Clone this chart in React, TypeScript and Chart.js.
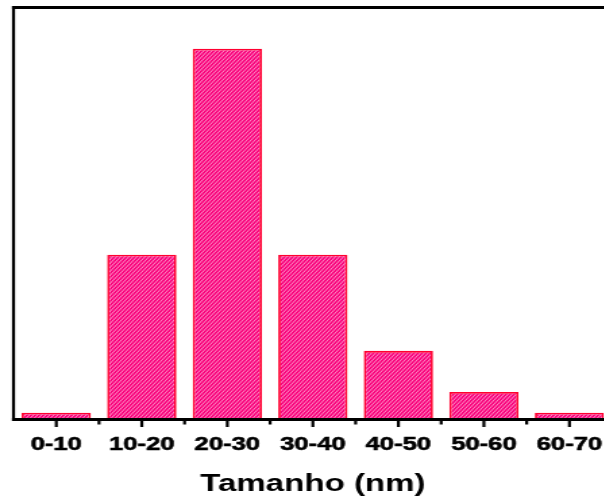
import React, { useEffect, useRef } from "react";
import { Chart, registerables } from "chart.js";

Chart.register(...registerables);

const categories = ["0-10", "10-20", "20-30", "30-40", "40-50", "50-60", "60-70"];
const counts = [1, 24, 54, 24, 10, 4, 1];
const yMax = 60;
const xTitle = "Tamanho (nm)";

const STRETCH = 1.35;
const CANVAS_W = 460;
const CANVAS_H = 501;

function makeHatch(): CanvasPattern | string {
  const c = document.createElement("canvas");
  c.width = 3;
  c.height = 4;
  const g = c.getContext("2d");
  if (!g) return "#ff0a80";
  g.fillStyle = "#f8007a";
  g.fillRect(0, 0, 3, 4);
  g.strokeStyle = "rgba(255,195,228,0.9)";
  g.lineWidth = 0.85;
  g.beginPath();
  g.moveTo(-3, 8);
  g.lineTo(3, 0);
  g.moveTo(0, 8);
  g.lineTo(6, 0);
  g.moveTo(-3, 4);
  g.lineTo(3, -4);
  g.stroke();
  const p = g.createPattern(c, "repeat");
  return p || "#ff0a80";
}

const framePlugin = {
  id: "frame",
  afterDatasetsDraw(chart: any) {
    const { ctx, chartArea, scales } = chart;
    const { left, top, right, bottom } = chartArea;
    const x = scales.x;
    const vw = 3 / STRETCH;
    ctx.save();
    ctx.fillStyle = "#000";
    ctx.fillRect(left - vw / 2, top - 1.5, right - left + vw, 3);
    ctx.fillRect(left - vw / 2, top - 1.5, vw, bottom - top + 3);
    ctx.fillRect(right - vw / 2, top - 1.5, vw, bottom - top + 3);
    ctx.fillRect(left - vw / 2, bottom - 1.5, right - left + vw, 3);
    for (let i = 0; i < categories.length; i++) {
      const cx = x.getPixelForValue(i);
      ctx.fillRect(cx - vw / 2, bottom, vw, 7.5);
      if (i < categories.length - 1) {
        const bx = (cx + x.getPixelForValue(i + 1)) / 2;
        ctx.fillRect(bx - vw / 2, bottom, vw, 5);
      }
    }
    ctx.restore();
  },
};

export default function App() {
  const ref = useRef<HTMLCanvasElement | null>(null);

  useEffect(() => {
    document.body.style.overflow = "hidden";
    const canvas = ref.current;
    if (!canvas) return;
    const hatch = makeHatch();
    const chart = new Chart(canvas, {
      type: "bar",
      data: {
        labels: categories,
        datasets: [
          {
            data: counts,
            backgroundColor: hatch as any,
            borderColor: "#ff0030",
            borderWidth: 1.8,
            barPercentage: 0.81,
            categoryPercentage: 1,
          },
        ],
      },
      options: {
        responsive: false,
        animation: false,
        devicePixelRatio: 1,
        layout: { padding: { top: 7.5, left: 10, right: CANVAS_W - 454.4, bottom: 0 } },
        plugins: {
          legend: { display: false },
          tooltip: { enabled: false },
          title: { display: false },
        },
        scales: {
          x: {
            type: "category",
            grid: { display: false, drawTicks: false },
            border: { display: false },
            ticks: {
              color: "#000",
              padding: 13.5,
              maxRotation: 0,
              autoSkip: false,
              textStrokeColor: "#000",
              textStrokeWidth: 0.6,
              font: { family: "'Liberation Sans', Arial, sans-serif", weight: "bold", size: 19 },
            },
            title: {
              display: true,
              text: xTitle,
              color: "#000",
              padding: { top: 0, bottom: 2.3 },
              font: { family: "'Liberation Sans', Arial, sans-serif", weight: "bold", size: 24.5 },
            },
          },
          y: {
            display: false,
            min: 0,
            max: yMax,
          },
        },
      },
      plugins: [framePlugin],
    });
    return () => chart.destroy();
  }, []);

  return (
    <div
      style={{
        position: "fixed",
        left: 0,
        top: 0,
        width: 604,
        height: 501,
        overflow: "hidden",
        background: "#fff",
      }}
    >
      <div
        style={{
          width: CANVAS_W,
          height: CANVAS_H,
          transform: `scaleX(${STRETCH})`,
          transformOrigin: "0 0",
        }}
      >
        <canvas ref={ref} width={CANVAS_W} height={CANVAS_H} />
      </div>
    </div>
  );
}
